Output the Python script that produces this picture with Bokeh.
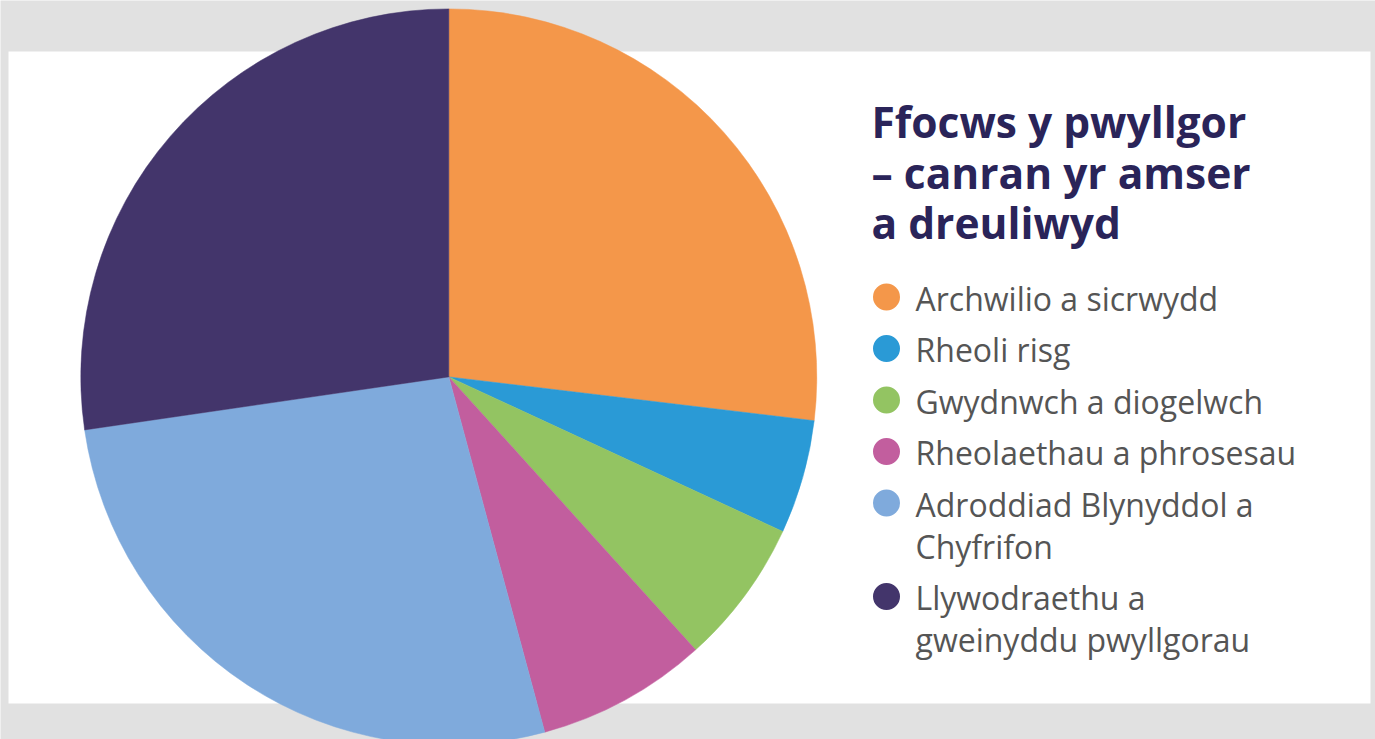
import math
from bokeh.plotting import figure
from bokeh.models import Range1d, BoxAnnotation, ColumnDataSource
from bokeh.core.properties import value
from bokeh.embed import file_html
from bokeh.resources import INLINE

# ---- data ----
categories = [
    "Archwilio a sicrwydd",
    "Rheoli risg",
    "Gwydnwch a diogelwch",
    "Rheolaethau a phrosesau",
    "Adroddiad Blynyddol a\nChyfrifon",
    "Llywodraethu a\ngweinyddu pwyllgorau",
]
shares = [26.9, 5.0, 6.4, 7.5, 26.9, 27.3]
colors = ["#f4974a", "#2a9ad6", "#93c462", "#c25e9e", "#7faadc", "#43356b"]
title_lines = ["Ffocws y pwyllgor", "\u2013 canran yr amser", "a dreuliwyd"]

# ---- layout (pixel space of the figure) ----
W, H = 1375, 739
def Y(sy):  # page y -> data y
    return H - sy
def X(sx):
    return sx

p = figure(width=W, height=H, output_backend="svg", toolbar_location=None,
           x_range=Range1d(0, W), y_range=Range1d(0, H), min_border=0)
p.min_border_left = p.min_border_right = p.min_border_top = p.min_border_bottom = 0
p.axis.visible = False
p.grid.visible = False
p.outline_line_color = None
p.background_fill_color = "#e1e1e1"
p.border_fill_color = "#e1e1e1"

# white panel
p.add_layout(BoxAnnotation(left=X(8), right=X(1370), top=Y(51), bottom=Y(703),
                           fill_color="white", fill_alpha=1, line_color=None, level="underlay"))

# pie
total = sum(shares)
starts, ends = [], []
cum = 0.0
for v in shares:
    starts.append(math.pi / 2 - 2 * math.pi * cum / total)
    cum += v
    ends.append(math.pi / 2 - 2 * math.pi * cum / total)
src = ColumnDataSource(dict(start=starts, end=ends, color=colors, cat=categories, share=shares))
p.wedge(x=X(448.3), y=Y(376.4), radius=368, start_angle="start", end_angle="end",
        direction="clock", fill_color="color", line_color="color", line_width=0.5, source=src)

# title
title_y0 = Y(137.5 - 16.5)
for i, t in enumerate(title_lines):
    p.text(x=[X(871)], y=[title_y0 - i * 50.5], text=[t], text_font=value("Open Sans"),
           text_font_style="bold", text_font_size="42.5px", text_color="#2a2459",
           text_baseline="alphabetic", text_align="left")

# legend
base = Y(310 - 12.5)
for cat, col in zip(categories, colors):
    lines = cat.split("\n")
    p.scatter(x=[X(886)], y=[base + 13.5 - 12.5], size=27, marker="circle",
              fill_color=col, line_color=None)
    for j, ln in enumerate(lines):
        p.text(x=[X(915)], y=[base - j * 42], text=[ln], text_font=value("Open Sans"),
               text_font_size="32px", text_color="#555555",
               text_baseline="alphabetic", text_align="left")
    base -= 51.5 + 42 * (len(lines) - 1)

open("out.html", "w").write(file_html(p, INLINE))
